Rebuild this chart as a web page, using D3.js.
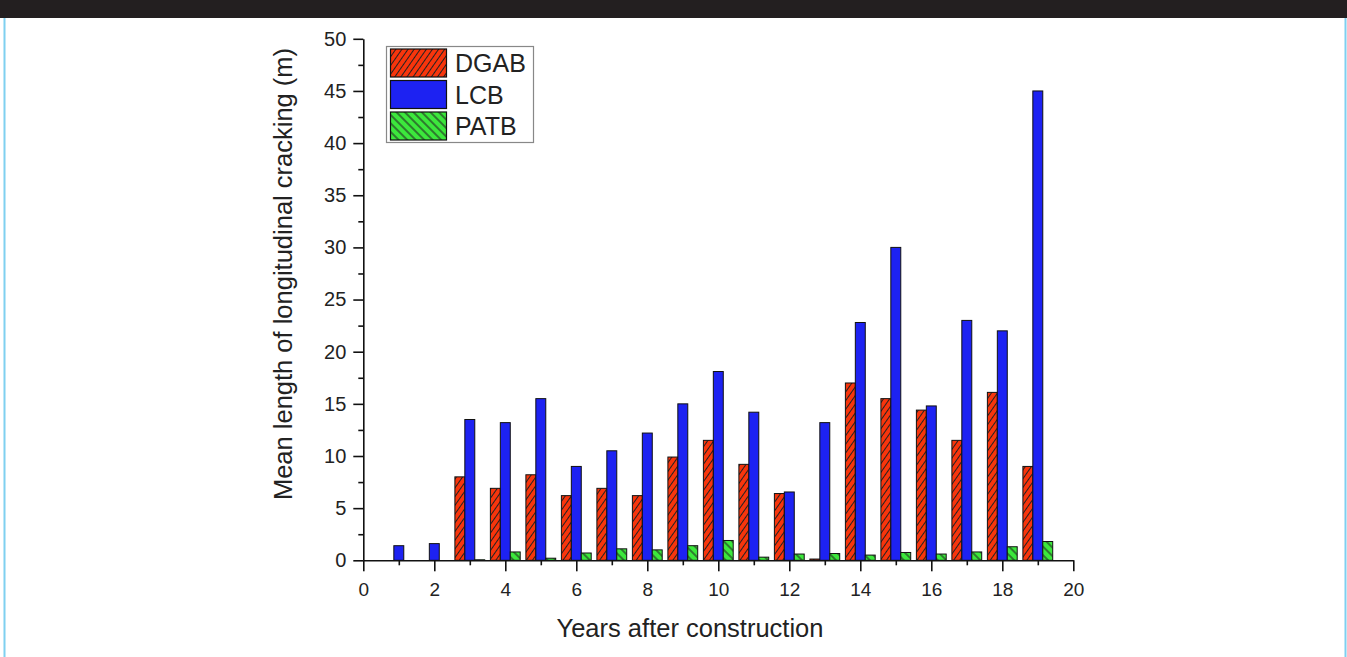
<!DOCTYPE html>
<html>
<head>
<meta charset="utf-8">
<script src="https://cdn.jsdelivr.net/npm/d3@7"></script>
<style>
  html, body { margin: 0; padding: 0; background: #fff; }
  svg { display: block; font-family: "Liberation Sans", Arial, sans-serif; }
</style>
</head>
<body>
<svg id="chart" width="1347" height="657"></svg>
<script>
const years = [1, 2, 3, 4, 5, 6, 7, 8, 9, 10, 11, 12, 13, 14, 15, 16, 17, 18, 19];
const seriesNames = ["DGAB", "LCB", "PATB"];
const dgab = [0, 0, 8.0, 6.9, 8.2, 6.2, 6.9, 6.2, 9.9, 11.5, 9.2, 6.4, 0.12, 17.0, 15.5, 14.4, 11.5, 16.1, 9.0];
const lcb  = [1.4, 1.6, 13.5, 13.2, 15.5, 9.0, 10.5, 12.2, 15.0, 18.1, 14.2, 6.55, 13.2, 22.8, 30.0, 14.8, 23.0, 22.0, 45.0];
const patb = [0, 0, 0.05, 0.8, 0.2, 0.7, 1.1, 1.0, 1.4, 1.9, 0.3, 0.6, 0.65, 0.5, 0.75, 0.6, 0.8, 1.3, 1.8];
const xTicks = [0, 2, 4, 6, 8, 10, 12, 14, 16, 18, 20];
const yTicks = [0, 5, 10, 15, 20, 25, 30, 35, 40, 45, 50];
const xTitle = "Years after construction";
const yTitle = "Mean length of longitudinal cracking (m)";

const svg = d3.select("#chart");

// page frame
svg.append("rect").attr("x", 0).attr("y", 0).attr("width", 1347).attr("height", 18).attr("fill", "#231f20");
svg.append("line").attr("x1", 4.5).attr("x2", 4.5).attr("y1", 18).attr("y2", 657).attr("stroke", "#7fd0f0").attr("stroke-width", 2);
svg.append("line").attr("x1", 1345.5).attr("x2", 1345.5).attr("y1", 18).attr("y2", 657).attr("stroke", "#7fd0f0").attr("stroke-width", 2);

const x = d3.scaleLinear().domain([0, 20]).range([363.3, 1073.3]);
const y = d3.scaleLinear().domain([0, 50]).range([560.3, 38.8]);

// patterns
const defs = svg.append("defs");
function hatch(id, fill, angle, spacing, sw) {
  const p = defs.append("pattern").attr("id", id)
    .attr("patternUnits", "userSpaceOnUse")
    .attr("width", spacing).attr("height", spacing)
    .attr("patternTransform", `rotate(${angle})`);
  p.append("rect").attr("width", spacing).attr("height", spacing).attr("fill", fill);
  p.append("line").attr("x1", spacing / 2).attr("x2", spacing / 2).attr("y1", 0).attr("y2", spacing)
    .attr("stroke", "#222").attr("stroke-width", sw);
}
hatch("hRed", "#f8350c", 35, 5, 1);
hatch("hGreen", "#3ce83c", -45, 6, 1.1);

const fills = ["url(#hRed)", "#1d22f2", "url(#hGreen)"];
const values = [dgab, lcb, patb];
const barW = 0.28;
const offsets = [-barW, 0, barW];

// bars
values.forEach((vals, si) => {
  svg.append("g").selectAll("rect")
    .data(years.map((yr, i) => ({ yr, v: vals[i] })).filter(d => d.v > 0))
    .join("rect")
    .attr("x", d => x(d.yr + offsets[si] - barW / 2))
    .attr("width", d => x(d.yr + offsets[si] + barW / 2) - x(d.yr + offsets[si] - barW / 2))
    .attr("y", d => y(d.v))
    .attr("height", d => y(0) - y(d.v))
    .attr("fill", fills[si])
    .attr("stroke", "#111")
    .attr("stroke-width", 1);
});

// x axis
const xAxis = svg.append("g").attr("transform", `translate(0,${y(0)})`);
xAxis.call(d3.axisBottom(x).tickValues(xTicks).tickFormat(d3.format("d")).tickSize(11).tickSizeOuter(0))
  .call(g => g.select(".domain").attr("stroke", "#111").attr("stroke-width", 1.6))
  .call(g => g.selectAll(".tick line").attr("stroke", "#111").attr("stroke-width", 1.6))
  .call(g => g.selectAll(".tick text").style("font-size", "19px").attr("fill", "#222").attr("dy", "0.72em").attr("y", 22));
xAxis.append("g").call(d3.axisBottom(x).tickValues(d3.range(1, 20, 2)).tickFormat("").tickSize(5).tickSizeOuter(0))
  .call(g => g.select(".domain").remove())
  .call(g => g.selectAll(".tick line").attr("stroke", "#111").attr("stroke-width", 1.6));

// y axis
const yAxis = svg.append("g").attr("transform", `translate(${x(0)},0)`);
yAxis.call(d3.axisLeft(y).tickValues(yTicks).tickFormat(d3.format("d")).tickSize(10).tickSizeOuter(0))
  .call(g => g.select(".domain").attr("stroke", "#111").attr("stroke-width", 1.6))
  .call(g => g.selectAll(".tick line").attr("stroke", "#111").attr("stroke-width", 1.6))
  .call(g => g.selectAll(".tick text").style("font-size", "20px").attr("fill", "#222").attr("x", -17));
yAxis.append("g").call(d3.axisLeft(y).tickValues(d3.range(2.5, 50, 5)).tickFormat("").tickSize(5).tickSizeOuter(0))
  .call(g => g.select(".domain").remove())
  .call(g => g.selectAll(".tick line").attr("stroke", "#111").attr("stroke-width", 1.6));

// titles
svg.append("text").attr("x", 690).attr("y", 637).attr("text-anchor", "middle")
  .attr("font-size", 25.5).attr("fill", "#222").text(xTitle);
svg.append("text").attr("transform", "translate(292,274) rotate(-90)").attr("text-anchor", "middle")
  .attr("font-size", 25.5).attr("fill", "#222").text(yTitle);

// legend
const leg = svg.append("g");
leg.append("rect").attr("x", 386.5).attr("y", 46.5).attr("width", 147).attr("height", 96)
  .attr("fill", "#fff").attr("stroke", "#888").attr("stroke-width", 1.2);
const legY = [49, 80.5, 112];
const legBase = [72, 103.5, 135];
seriesNames.forEach((name, i) => {
  leg.append("rect").attr("x", 390.5).attr("y", legY[i]).attr("width", 56).attr("height", 28)
    .attr("fill", fills[i]).attr("stroke", "#111").attr("stroke-width", 1.2);
  leg.append("text").attr("x", 455).attr("y", legBase[i]).attr("font-size", 25).attr("fill", "#222").text(name);
});
</script>
</body>
</html>
